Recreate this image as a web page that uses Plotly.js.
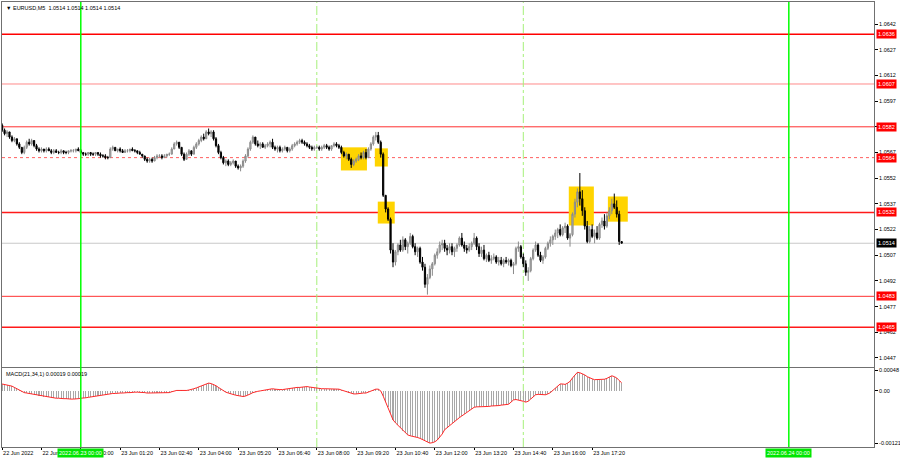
<!DOCTYPE html>
<html><head><meta charset="utf-8">
<script src="https://cdn.plot.ly/plotly-3.0.1.min.js"></script>
<style>html,body{margin:0;padding:0;background:#fff}#chart{width:900px;height:460px}</style>
</head><body><div id="chart"></div>
<script>
const symbolTitle = '\u25BC EURUSD,M5\u00A0\u00A01.0514 1.0514 1.0514 1.0514';
const macdTitle = 'MACD(21,34,1) 0.00019 0.00019';

const barOpen = [
1.0583,1.0580,1.0578,1.0579,1.0576,1.0574,1.0575,1.0572,1.0570,1.0567,1.0570,1.0573,1.0572,1.0574,1.0571,1.0569,1.0568,1.0569,1.0568,1.0569,1.0568,1.0567,1.0568,1.0567,1.0567,1.0568,1.0567,1.0567,1.0568,1.0568,1.0568,1.0569,1.0568,
1.0567,1.0566,1.0566,1.0567,1.0566,1.0566,1.0567,1.0566,1.0565,1.0565,1.0564,1.0564,1.0569,1.0570,1.0568,1.0569,1.0568,1.0567,1.0568,1.0568,1.0569,1.0568,1.0568,1.0567,1.0566,1.0565,1.0563,1.0562,1.0563,1.0562,
1.0564,1.0565,1.0565,1.0564,1.0565,1.0566,1.0566,1.0569,1.0572,1.0573,1.0570,1.0566,1.0563,1.0566,1.0568,1.0566,1.0570,1.0572,1.0574,1.0576,1.0575,1.0579,1.0578,1.0579,1.0575,1.0571,1.0567,1.0564,1.0561,1.0562,1.0560,1.0561,1.0562,1.0559,1.0558,1.0559,
1.0562,1.0565,1.0569,1.0573,1.0576,1.0572,1.0571,1.0572,1.0570,1.0571,1.0572,1.0573,1.0570,1.0569,1.0570,1.0568,1.0569,1.0570,1.0568,1.0569,1.0571,1.0572,1.0573,1.0574,1.0573,1.0572,1.0571,1.0570,1.0569,
1.0570,1.0570,1.0569,1.0570,1.0571,1.0570,1.0569,1.0571,1.0572,1.0571,1.0570,1.0567,1.0565,1.0566,1.0563,1.0560,1.0562,1.0563,1.0565,1.0564,1.0567,1.0564,1.0569,1.0572,1.0576,1.0577,1.0573,
1.0566,1.0542,1.0534,1.0528,1.0510,1.0503,1.0509,1.0513,1.0510,1.0516,1.0512,1.0514,1.0518,1.0512,1.0509,1.0511,1.0503,1.0500,1.0490,1.0494,1.0499,1.0502,1.0507,1.0509,1.0513,1.0514,1.0511,1.0510,1.0512,1.0509,1.0511,1.0513,1.0517,1.0513,1.0511,1.0510,
1.0512,1.0514,1.0517,1.0512,1.0508,1.0510,1.0505,1.0507,1.0504,1.0505,1.0506,1.0503,1.0504,1.0502,1.0504,1.0503,1.0504,1.0501,1.0502,1.0511,1.0512,1.0506,1.0502,1.0497,1.0498,1.0505,1.0510,1.0513,1.0507,1.0504,1.0506,1.0511,1.0514,1.0516,1.0518,1.0520,1.0522,1.0519,1.0523,1.0524,1.0517,1.0519,1.0531,1.0538,1.0544,1.0540,1.0533,1.0524,1.0515,1.0522,1.0518,1.0520,1.0517,1.0525,1.0527,1.0524,1.0530,1.0533,1.0537,1.0535,1.0531,1.0515
];
const barHigh = [
1.0584,1.0581,1.0580,1.0579,1.0577,1.0576,1.0575,1.0573,1.0570,1.0571,1.0574,1.0575,1.0575,1.0574,1.0572,1.0570,1.0570,1.0569,1.0570,1.0570,1.0569,1.0569,1.0569,1.0568,1.0569,1.0568,1.0568,1.0568,1.0569,1.0569,1.0569,1.0570,1.0569,
1.0567,1.0567,1.0567,1.0567,1.0567,1.0567,1.0567,1.0567,1.0566,1.0566,1.0565,1.0570,1.0571,1.0570,1.0569,1.0570,1.0569,1.0569,1.0569,1.0569,1.0570,1.0569,1.0568,1.0568,1.0566,1.0565,1.0564,1.0564,1.0564,1.0565,
1.0566,1.0566,1.0566,1.0566,1.0566,1.0567,1.0570,1.0573,1.0574,1.0573,1.0570,1.0567,1.0567,1.0569,1.0568,1.0571,1.0573,1.0575,1.0577,1.0578,1.0580,1.0581,1.0580,1.0580,1.0576,1.0572,1.0568,1.0565,1.0563,1.0563,1.0562,1.0563,1.0562,1.0560,1.0560,1.0563,
1.0566,1.0570,1.0574,1.0577,1.0576,1.0574,1.0573,1.0573,1.0572,1.0573,1.0574,1.0575,1.0571,1.0571,1.0571,1.0570,1.0571,1.0570,1.0570,1.0572,1.0573,1.0574,1.0575,1.0575,1.0574,1.0573,1.0572,1.0571,1.0571,
1.0571,1.0571,1.0571,1.0572,1.0572,1.0571,1.0571,1.0573,1.0573,1.0572,1.0571,1.0568,1.0567,1.0566,1.0564,1.0563,1.0564,1.0566,1.0567,1.0568,1.0569,1.0570,1.0573,1.0577,1.0579,1.0579,1.0574,
1.0567,1.0542,1.0535,1.0529,1.0514,1.0510,1.0514,1.0516,1.0518,1.0517,1.0515,1.0520,1.0519,1.0514,1.0512,1.0512,1.0506,1.0502,1.0496,1.0501,1.0503,1.0508,1.0511,1.0515,1.0516,1.0516,1.0513,1.0514,1.0514,1.0512,1.0514,1.0518,1.0520,1.0515,1.0513,1.0514,
1.0515,1.0520,1.0518,1.0514,1.0512,1.0513,1.0508,1.0509,1.0507,1.0508,1.0507,1.0506,1.0506,1.0505,1.0506,1.0505,1.0505,1.0503,1.0512,1.0515,1.0513,1.0508,1.0504,1.0500,1.0506,1.0511,1.0515,1.0514,1.0509,1.0507,1.0512,1.0515,1.0518,1.0519,1.0522,1.0523,1.0525,1.0524,1.0526,1.0525,1.0520,1.0532,1.0540,1.0546,1.0555,1.0545,1.0535,1.0527,1.0524,1.0525,1.0522,1.0524,1.0526,1.0529,1.0531,1.0532,1.0535,1.0540,1.0543,1.0539,1.0533,1.0515
];
const barLow = [
1.0579,1.0577,1.0576,1.0575,1.0573,1.0573,1.0571,1.0569,1.0566,1.0566,1.0569,1.0571,1.0571,1.0570,1.0568,1.0567,1.0567,1.0567,1.0567,1.0568,1.0566,1.0566,1.0567,1.0566,1.0566,1.0566,1.0566,1.0566,1.0567,1.0567,1.0567,1.0568,1.0566,
1.0565,1.0565,1.0565,1.0565,1.0565,1.0565,1.0565,1.0564,1.0564,1.0563,1.0563,1.0564,1.0568,1.0568,1.0567,1.0567,1.0567,1.0567,1.0567,1.0567,1.0568,1.0567,1.0566,1.0566,1.0564,1.0562,1.0561,1.0561,1.0561,1.0562,
1.0563,1.0564,1.0563,1.0564,1.0564,1.0565,1.0566,1.0569,1.0571,1.0569,1.0565,1.0562,1.0563,1.0565,1.0565,1.0566,1.0569,1.0571,1.0573,1.0574,1.0575,1.0577,1.0576,1.0574,1.0570,1.0566,1.0563,1.0560,1.0559,1.0559,1.0559,1.0560,1.0558,1.0557,1.0556,1.0558,
1.0561,1.0564,1.0568,1.0572,1.0571,1.0570,1.0569,1.0570,1.0569,1.0570,1.0570,1.0569,1.0568,1.0567,1.0567,1.0567,1.0568,1.0567,1.0567,1.0568,1.0570,1.0571,1.0572,1.0572,1.0571,1.0570,1.0569,1.0568,1.0568,
1.0569,1.0568,1.0568,1.0569,1.0569,1.0568,1.0568,1.0570,1.0570,1.0569,1.0566,1.0564,1.0563,1.0562,1.0558,1.0559,1.0561,1.0562,1.0563,1.0563,1.0563,1.0564,1.0568,1.0571,1.0574,1.0572,1.0564,
1.0541,1.0532,1.0527,1.0508,1.0500,1.0501,1.0507,1.0509,1.0509,1.0510,1.0508,1.0513,1.0511,1.0507,1.0506,1.0502,1.0498,1.0488,1.0484,1.0493,1.0495,1.0501,1.0505,1.0508,1.0510,1.0509,1.0507,1.0508,1.0507,1.0506,1.0509,1.0512,1.0512,1.0509,1.0508,1.0509,
1.0510,1.0513,1.0510,1.0506,1.0506,1.0504,1.0503,1.0503,1.0502,1.0504,1.0502,1.0501,1.0501,1.0500,1.0502,1.0501,1.0500,1.0496,1.0501,1.0509,1.0505,1.0500,1.0495,1.0492,1.0497,1.0504,1.0509,1.0506,1.0503,1.0502,1.0505,1.0510,1.0512,1.0513,1.0516,1.0517,1.0518,1.0518,1.0520,1.0516,1.0512,1.0518,1.0529,1.0535,1.0536,1.0530,1.0522,1.0514,1.0514,1.0517,1.0514,1.0516,1.0516,1.0523,1.0522,1.0523,1.0528,1.0531,1.0534,1.0529,1.0513,1.0514
];
const barClose = [
1.0580,1.0578,1.0579,1.0576,1.0574,1.0575,1.0572,1.0570,1.0567,1.0570,1.0573,1.0572,1.0574,1.0571,1.0569,1.0568,1.0569,1.0568,1.0569,1.0568,1.0567,1.0568,1.0567,1.0567,1.0568,1.0567,1.0567,1.0568,1.0568,1.0568,1.0569,1.0568,1.0567,
1.0566,1.0566,1.0567,1.0566,1.0566,1.0567,1.0566,1.0565,1.0565,1.0564,1.0564,1.0569,1.0570,1.0568,1.0569,1.0568,1.0567,1.0568,1.0568,1.0569,1.0568,1.0568,1.0567,1.0566,1.0565,1.0563,1.0562,1.0563,1.0562,1.0564,
1.0565,1.0565,1.0564,1.0565,1.0566,1.0566,1.0569,1.0572,1.0573,1.0570,1.0566,1.0563,1.0566,1.0568,1.0566,1.0570,1.0572,1.0574,1.0576,1.0575,1.0579,1.0578,1.0579,1.0575,1.0571,1.0567,1.0564,1.0561,1.0562,1.0560,1.0561,1.0562,1.0559,1.0558,1.0559,1.0562,
1.0565,1.0569,1.0573,1.0576,1.0572,1.0571,1.0572,1.0570,1.0571,1.0572,1.0573,1.0570,1.0569,1.0570,1.0568,1.0569,1.0570,1.0568,1.0569,1.0571,1.0572,1.0573,1.0574,1.0573,1.0572,1.0571,1.0570,1.0569,1.0570,
1.0570,1.0569,1.0570,1.0571,1.0570,1.0569,1.0571,1.0572,1.0571,1.0570,1.0567,1.0565,1.0566,1.0563,1.0560,1.0562,1.0563,1.0565,1.0564,1.0567,1.0564,1.0569,1.0572,1.0576,1.0577,1.0573,1.0566,
1.0542,1.0534,1.0528,1.0510,1.0503,1.0509,1.0513,1.0510,1.0516,1.0512,1.0514,1.0518,1.0512,1.0509,1.0511,1.0503,1.0500,1.0490,1.0494,1.0499,1.0502,1.0507,1.0509,1.0513,1.0514,1.0511,1.0510,1.0512,1.0509,1.0511,1.0513,1.0517,1.0513,1.0511,1.0510,1.0512,
1.0514,1.0517,1.0512,1.0508,1.0510,1.0505,1.0507,1.0504,1.0505,1.0506,1.0503,1.0504,1.0502,1.0504,1.0503,1.0504,1.0501,1.0502,1.0511,1.0512,1.0506,1.0502,1.0497,1.0498,1.0505,1.0510,1.0513,1.0507,1.0504,1.0506,1.0511,1.0514,1.0516,1.0518,1.0520,1.0522,1.0519,1.0523,1.0524,1.0517,1.0519,1.0531,1.0538,1.0544,1.0540,1.0533,1.0524,1.0515,1.0522,1.0518,1.0520,1.0517,1.0525,1.0527,1.0524,1.0530,1.0533,1.0537,1.0535,1.0531,1.0515,1.0514
];
const macdValues = [
0.00016,0.00015,0.00014,0.00012,0.00011,0.00008,0.00005,0.00002,-0.00002,
-0.00004,-0.00005,-0.00006,-0.00008,-0.00009,-0.0001,-0.00011,-0.00012,
-0.00013,-0.00014,-0.00015,-0.00016,-0.00016,-0.00017,-0.00017,-0.00018,
-0.00018,-0.00018,-0.00019,-0.00019,-0.00019,-0.00019,-0.00018,-0.00017,
-0.00017,-0.00016,-0.00015,-0.00014,-0.00013,-0.00012,-0.00011,-0.0001,-0.0001,-0.00009,-0.00008,-0.00007,
-0.00006,-0.00006,-0.00005,-0.00005,-0.00005,-0.00004,-0.00004,-0.00004,-0.00003,-0.00003,-0.00003,-0.00003,
-0.00003,-0.00004,-0.00005,-0.00005,-0.00005,-0.00005,-0.00005,-0.00004,-0.00004,-0.00004,-0.00004,-0.00004,
-0.00002,0,0.00001,0.00001,0.00001,0,0.00001,0.00002,0.00003,
0.00005,0.00007,0.00009,0.00011,0.00013,0.00015,0.00018,
0.00017,0.00015,0.00012,0.00008,0.00004,0.00001,-0.00003,
-0.00005,-0.00007,-0.00009,-0.0001,-0.00011,-0.00012,-0.00013,
-0.00012,-0.0001,-0.00007,-0.00004,-0.00002,
-0.00001,0,0.00001,0.00002,0.00003,0.00004,0.00005,
0.00004,0.00003,0.00003,0.00003,0.00004,0.00004,0.00005,
0.00006,0.00007,0.00008,0.00008,0.00009,0.0001,0.0001,
0.00009,0.00008,0.00007,0.00006,
0.00006,0.00005,0.00005,0.00005,0.00005,0.00005,0.00005,0.00004,0.00004,
0.00002,0,-0.00002,-0.00004,-0.00006,-0.00007,
-0.00007,-0.00006,-0.00006,-0.00005,-0.00005,
-0.00003,0,0.00002,0.00004,
0.00004,0,-0.00012,
-0.00025,-0.00038,-0.00052,-0.00067,
-0.00074,-0.0008,-0.00086,-0.00092,-0.00097,-0.00102,
-0.00104,-0.00105,-0.00106,-0.00108,-0.0011,
-0.00113,-0.00116,-0.00119,-0.00121,
-0.0012,-0.00118,-0.00114,-0.00108,-0.001,-0.0009,
-0.00085,-0.0008,-0.00075,-0.00071,-0.00067,
-0.00062,-0.00058,-0.00054,-0.00049,-0.00045,-0.00041,-0.00038,
-0.00037,-0.00037,-0.00036,-0.00036,-0.00036,-0.00036,-0.00035,-0.00035,-0.00035,
-0.00034,-0.00033,-0.00032,-0.00031,-0.00031,-0.00026,-0.00021,
-0.0002,-0.00021,-0.00022,-0.00024,-0.00026,
-0.00024,-0.00019,-0.00014,-0.00009,
-0.00008,-0.00008,-0.00009,-0.00009,-0.00007,-0.00004,0.00001,
0.00006,0.00011,0.00016,0.00016,0.00015,
0.00018,0.00022,0.0003,0.00037,0.00043,
0.00042,0.0004,0.00037,0.00033,0.0003,0.00028,0.00026,
0.00026,0.00026,0.00026,0.00027,0.00029,0.00032,0.00035,
0.00033,0.0003,0.00024,0.00019
];

const timeTickBars = [0,16,32,48,64,80,96,112,128,144,160,176,192,208,224,240];
const timeTickLabels = ['22 Jun 2022','22 Jun 22:40','23 Jun 00:00','23 Jun 01:20','23 Jun 02:40','23 Jun 04:00','23 Jun 05:20','23 Jun 06:40','23 Jun 08:00','23 Jun 09:20','23 Jun 10:40','23 Jun 12:00','23 Jun 13:20','23 Jun 14:40','23 Jun 16:00','23 Jun 17:20'];
const priceTicks = [1.0447,1.0462,1.0477,1.0492,1.0507,1.0522,1.0537,1.0552,1.0567,1.0582,1.0597,1.0612,1.0627,1.0642];
const macdTicks = [0.00048, 0, -0.00121];
const macdTickLabels = ['0.00048','0.00','-0.00121'];
const levelPrices = [1.0636,1.0607,1.0582,1.0564,1.0532,1.0483,1.0465];
const currentPrice = 1.0514;
const dayStartBars = [32, 320];
const dayStartLabels = ['2022.06.23 00:00','2022.06.24 00:00'];
const sessionBars = [128, 212];
const zoneStart = [137.8, 151.6, 152.8, 230.5, 246.4];
const zoneEnd   = [148.4, 156.9, 159.7, 240.7, 254.5];
const zoneHigh  = [1.0570, 1.05694, 1.05383, 1.05471, 1.05413];
const zoneLow   = [1.05565, 1.05588, 1.05255, 1.05243, 1.05266];

// styles
const levelColors = ['#ff0000','#ff8a8a','#ff3030','#ff6060','#ff1a1a','#ff3030','#ff1a1a'];
const levelWidths = [1.5,1,1,1,1.5,1,1.5];
const levelDash = ['solid','solid','solid','dot','solid','solid','solid'];
const FONT = 'Liberation Sans, Arial, sans-serif';
const FS = 5.5;

const n = Math.min(barOpen.length, barHigh.length, barLow.length, barClose.length);
const barIndex = Array.from({length: n}, (_, i) => i);
const macdIndex = macdValues.map((_, i) => i);

const traces = [
  {
    type: 'candlestick', xaxis: 'x', yaxis: 'y',
    x: barIndex, open: barOpen.slice(0,n), high: barHigh.slice(0,n), low: barLow.slice(0,n), close: barClose.slice(0,n),
    increasing: {line: {color: '#8a8a8a', width: 1}, fillcolor: '#b8b8b8'},
    decreasing: {line: {color: '#000000', width: 1}, fillcolor: '#000000'},
    whiskerwidth: 0, hoverinfo: 'skip'
  },
  {
    type: 'bar', xaxis: 'x2', yaxis: 'y2', x: macdIndex, y: macdValues,
    width: 0.42, marker: {color: '#a8a8a8', line: {width: 0}}, hoverinfo: 'skip'
  },
  {
    type: 'scatter', mode: 'lines', xaxis: 'x2', yaxis: 'y2', x: macdIndex, y: macdValues,
    line: {color: '#ff2828', width: 1}, hoverinfo: 'skip'
  }
];

const shapes = [];
for (let k = 0; k < zoneStart.length; k++) {
  shapes.push({type: 'rect', layer: 'below', xref: 'x', yref: 'y', x0: zoneStart[k], x1: zoneEnd[k], y0: zoneLow[k], y1: zoneHigh[k],
    fillcolor: '#ffd400', line: {width: 0}});
}
shapes.push({type: 'line', layer: 'below', xref: 'paper', yref: 'y', x0: 0, x1: 1, y0: currentPrice, y1: currentPrice, line: {color: '#c8c8c8', width: 1}});
levelPrices.forEach((p, k) => {
  shapes.push({type: 'line', layer: 'below', xref: 'paper', yref: 'y', x0: 0, x1: 1, y0: p, y1: p,
    line: {color: levelColors[k], width: levelWidths[k], dash: levelDash[k]}});
});
sessionBars.forEach(b => {
  shapes.push({type: 'line', layer: 'below', xref: 'x', yref: 'paper', x0: b, x1: b, y0: 0, y1: 1,
    line: {color: '#a6f07a', width: 1, dash: 'dashdot'}});
});
dayStartBars.forEach(b => {
  shapes.push({type: 'line', layer: 'above', xref: 'x', yref: 'paper', x0: b, x1: b, y0: 0, y1: 1,
    line: {color: '#00ff00', width: 1.5}});
});

const annotations = [];
annotations.push({xref: 'paper', yref: 'paper', x: 0, y: 1, xanchor: 'left', yanchor: 'top', xshift: 2, yshift: -1,
  text: symbolTitle, showarrow: false, font: {family: FONT, size: FS, color: '#000'}});
annotations.push({xref: 'paper', yref: 'paper', x: 0, y: 0.1775, xanchor: 'left', yanchor: 'top', xshift: 2, yshift: -1,
  text: macdTitle, showarrow: false, font: {family: FONT, size: FS, color: '#000'}});
levelPrices.forEach(p => {
  annotations.push({xref: 'paper', yref: 'y', x: 1, y: p, xanchor: 'left', yanchor: 'middle', xshift: 2,
    text: p.toFixed(4), showarrow: false, bgcolor: '#ff0000', borderpad: 1,
    font: {family: FONT, size: FS, color: '#ffffff'}});
});
annotations.push({xref: 'paper', yref: 'y', x: 1, y: currentPrice, xanchor: 'left', yanchor: 'middle', xshift: 2,
  text: currentPrice.toFixed(4), showarrow: false, bgcolor: '#000000', borderpad: 1,
  font: {family: FONT, size: FS, color: '#ffffff'}});
dayStartBars.forEach((b, k) => {
  annotations.push({xref: 'x', yref: 'paper', x: b, y: 0, xanchor: 'center', yanchor: 'top', yshift: -1,
    text: dayStartLabels[k], showarrow: false, bgcolor: '#00e600', borderpad: 1,
    font: {family: FONT, size: FS, color: '#ffffff'}});
});

const axisLine = '#707070';
const layout = {
  width: 900, height: 460,
  margin: {l: 2, r: 26, t: 2, b: 13, pad: 0},
  paper_bgcolor: '#ffffff', plot_bgcolor: '#ffffff',
  showlegend: false, hovermode: false, dragmode: false,
  font: {family: FONT, size: FS, color: '#000'},
  bargap: 0,
  xaxis: {
    domain: [0, 1], anchor: 'y', range: [-0.05, 354.65],
    showticklabels: false, ticks: '', showgrid: false, zeroline: false,
    showline: true, mirror: true, linecolor: axisLine, linewidth: 1,
    rangeslider: {visible: false}, fixedrange: true
  },
  xaxis2: {
    domain: [0, 1], anchor: 'y2', matches: 'x',
    tickmode: 'array', tickvals: timeTickBars, ticktext: timeTickLabels,
    tickangle: 0, automargin: false,
    ticks: 'outside', ticklen: 2, tickcolor: '#000', ticklabelposition: 'outside right',
    tickfont: {family: FONT, size: FS, color: '#000'},
    showgrid: false, zeroline: false,
    showline: true, mirror: true, linecolor: axisLine, linewidth: 1, fixedrange: true
  },
  yaxis: {
    domain: [0.1798, 1], anchor: 'x', side: 'right',
    range: [1.044173, 1.065488],
    tickmode: 'array', tickvals: priceTicks, ticktext: priceTicks.map(v => v.toFixed(4)),
    ticks: 'outside', ticklen: 3, tickcolor: '#000',
    tickfont: {family: FONT, size: FS, color: '#000'},
    showgrid: false, zeroline: false,
    showline: true, mirror: true, linecolor: axisLine, linewidth: 1, fixedrange: true
  },
  yaxis2: {
    domain: [0, 0.1775], anchor: 'x2', side: 'right',
    range: [-0.0013, 0.00053],
    tickmode: 'array', tickvals: macdTicks, ticktext: macdTickLabels,
    ticks: 'outside', ticklen: 3, tickcolor: '#000',
    tickfont: {family: FONT, size: FS, color: '#000'},
    showgrid: false, zeroline: false,
    showline: true, mirror: true, linecolor: axisLine, linewidth: 1, fixedrange: true
  },
  shapes: shapes,
  annotations: annotations
};

Plotly.newPlot('chart', traces, layout, {staticPlot: true, displayModeBar: false});
</script>
</body></html>
